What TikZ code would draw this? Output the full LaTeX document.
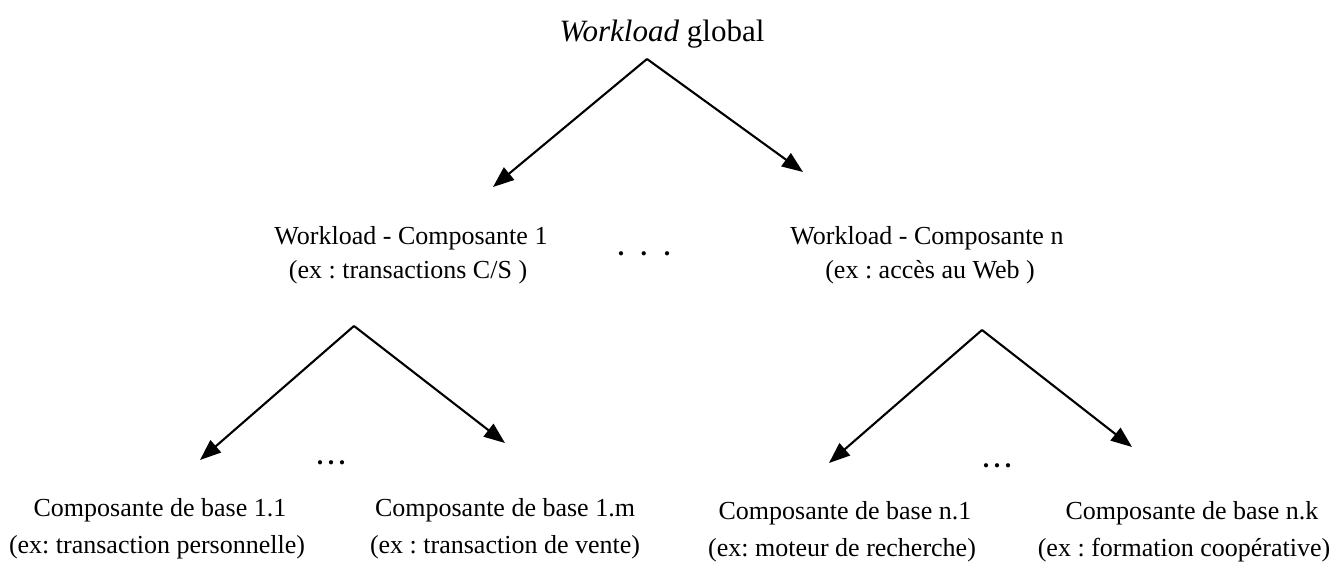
\documentclass[tikz,border=0pt]{standalone}
\usepackage{fontspec}
\setmainfont{Liberation Serif}
\usetikzlibrary{arrows.meta}
\frenchspacing
\begin{document}
\begin{tikzpicture}[x=1pt,y=-1pt,
  lbl/.style={inner sep=0pt,anchor=base,font=\fontsize{26}{30}\selectfont},
  ttl/.style={inner sep=0pt,anchor=base,font=\fontsize{31}{36}\selectfont},
  dotsrow/.style={inner sep=0pt,anchor=base,font=\fontsize{26}{30}\selectfont\bfseries},
  arr/.style={line width=2.1pt,-{Triangle[length=21pt,width=16pt]}}]
\useasboundingbox (0,0) rectangle (1343,569);

% root
\node[ttl] (root) at (662,42) {\textit{Workload} global};
\coordinate (rtop) at (647,59);
\coordinate (rl) at (493,187);
\coordinate (rr) at (803,172);
\draw[arr] (rtop) -- (rl);
\draw[arr] (rtop) -- (rr);

% first-level components
\node[lbl] (wc1) at (411,244) {Workload - Composante 1};
\node[lbl] (wc1ex) at (408,279) {(ex : transactions C/S )};
\node[dotsrow] (mdots) at (644,255) {.\hspace{16.5pt}.\hspace{16.5pt}.};
\node[lbl] (wcn) at (927,244) {Workload - Composante n};
\node[lbl] (wcnex) at (930,279) {(ex : accès au Web )};

% left subtree
\coordinate (ltop) at (354,326);
\coordinate (ll) at (200,460);
\coordinate (lr) at (505,443);
\draw[arr] (ltop) -- (ll);
\draw[arr] (ltop) -- (lr);
\node[dotsrow] (ldots) at (331,464) {.\hspace{4.5pt}.\hspace{4.5pt}.};

% right subtree
\coordinate (ntop) at (982,330);
\coordinate (nl) at (829,463);
\coordinate (nr) at (1132,447);
\draw[arr] (ntop) -- (nl);
\draw[arr] (ntop) -- (nr);
\node[dotsrow] (rdots) at (997,467) {.\hspace{4.5pt}.\hspace{4.5pt}.};

% base components
\node[lbl] (b11) at (160,516) {Composante de base 1.1};
\node[lbl] (b11ex) at (157,553) {(ex: transaction personnelle)};
\node[lbl] (b1m) at (505,516) {Composante de base 1.m};
\node[lbl] (b1mex) at (505,553) {(ex : transaction de vente)};
\node[lbl] (bn1) at (845,519) {Composante de base n.1};
\node[lbl] (bn1ex) at (842,556) {(ex: moteur de recherche)};
\node[lbl] (bnk) at (1192,519) {Composante de base n.k};
\node[lbl] (bnkex) at (1184,556) {(ex : formation coopérative)};
\end{tikzpicture}
\end{document}
